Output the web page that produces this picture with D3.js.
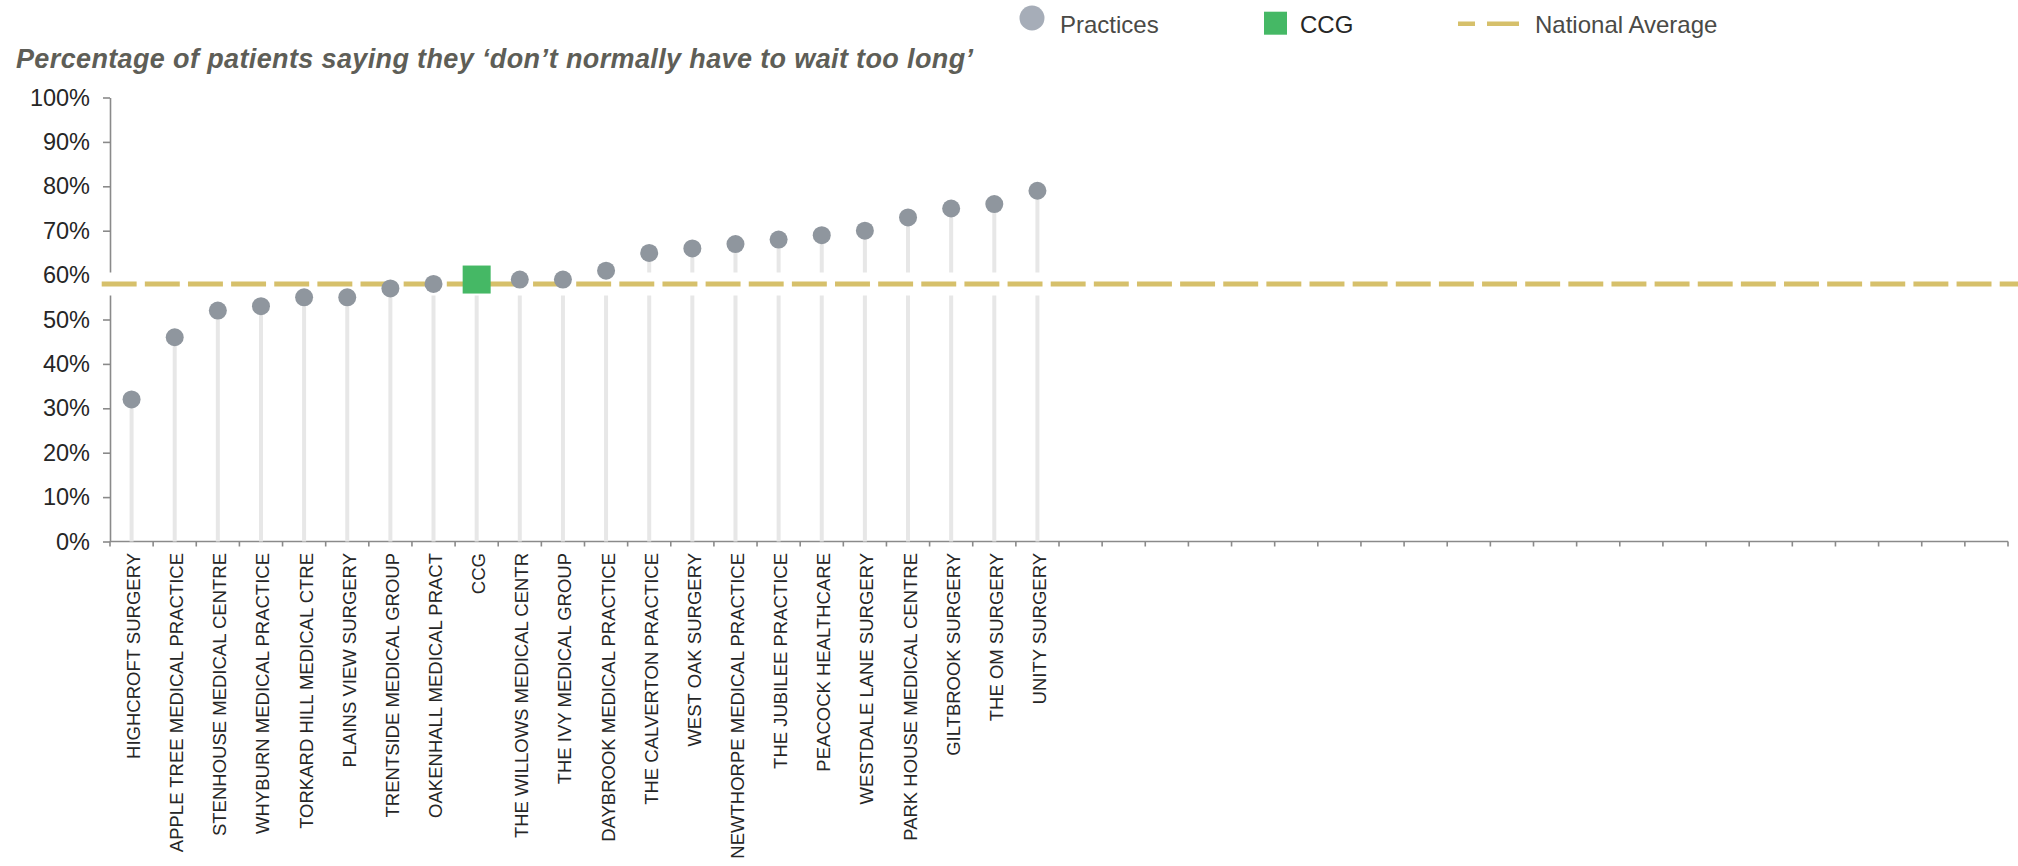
<!DOCTYPE html>
<html>
<head>
<meta charset="utf-8">
<script src="https://cdn.jsdelivr.net/npm/d3@7"></script>
<style>
  html, body { margin: 0; padding: 0; background: #ffffff; }
  svg { display: block; font-family: "Liberation Sans", Arial, sans-serif; }
</style>
</head>
<body>
<svg id="chart" width="2018" height="866"></svg>
<script>
// Practice names in display order (the CCG sits among them at its own value)
const categories = [
  "HIGHCROFT SURGERY", "APPLE TREE MEDICAL PRACTICE", "STENHOUSE MEDICAL CENTRE",
  "WHYBURN MEDICAL PRACTICE", "TORKARD HILL MEDICAL CTRE", "PLAINS VIEW SURGERY",
  "TRENTSIDE MEDICAL GROUP", "OAKENHALL MEDICAL PRACT", "CCG",
  "THE WILLOWS MEDICAL CENTR", "THE IVY MEDICAL GROUP", "DAYBROOK MEDICAL PRACTICE",
  "THE CALVERTON PRACTICE", "WEST OAK SURGERY", "NEWTHORPE MEDICAL PRACTICE",
  "THE JUBILEE PRACTICE", "PEACOCK HEALTHCARE", "WESTDALE LANE SURGERY",
  "PARK HOUSE MEDICAL CENTRE", "GILTBROOK SURGERY", "THE OM SURGERY", "UNITY SURGERY"
];
// % of patients who don't normally have to wait too long
const values = [32, 46, 52, 53, 55, 55, 57, 58, 59, 59, 59, 61, 65, 66, 67, 68, 69, 70, 73, 75, 76, 79];
// Which entry is the CCG rather than a practice
const ccgName = "CCG";
const nationalAverage = 58;
// The axis is laid out with room for this many slots
const slotCount = 44;
const yTicks = [0, 10, 20, 30, 40, 50, 60, 70, 80, 90, 100];
const titleText = "Percentage of patients saying they \u2018don\u2019t normally have to wait too long\u2019";
const legendItems = ["Practices", "CCG", "National Average"];

const colors = {
  dot: "#8f969e",
  legendDot: "#a6adb8",
  ccg: "#45b865",
  stem: "#e7e7e7",
  avg: "#d6c06b",
  axis: "#8a8a8a",
  text: "#262626",
  title: "#5e5e57",
  legendText: "#4a4a46"
};

const svg = d3.select("#chart");
const plotLeft = 110, plotRight = 2008, plotTop = 97.5, plotBottom = 541.5;

const x = d3.scaleBand().domain(d3.range(slotCount)).range([plotLeft, plotRight]).padding(0);
const y = d3.scaleLinear().domain([0, 100]).range([plotBottom, plotTop]);
const cx = i => x(i) + x.bandwidth() / 2;

// Title
svg.append("text")
  .attr("x", 16).attr("y", 68)
  .attr("font-size", 27).attr("font-weight", "bold").attr("font-style", "italic")
  .attr("fill", colors.title)
  .attr("textLength", 957).attr("lengthAdjust", "spacing")
  .text(titleText);

// Legend
const lg = svg.append("g");
lg.append("circle").attr("cx", 1032).attr("cy", 18).attr("r", 12.5).attr("fill", colors.legendDot);
lg.append("text").attr("x", 1060).attr("y", 32.5).attr("font-size", 24).attr("fill", colors.legendText).text(legendItems[0]);
lg.append("rect").attr("x", 1264).attr("y", 11.7).attr("width", 23).attr("height", 23).attr("fill", colors.ccg);
lg.append("text").attr("x", 1300).attr("y", 32.5).attr("font-size", 24).attr("fill", colors.text).text(legendItems[1]);
lg.append("line").attr("x1", 1458).attr("x2", 1519).attr("y1", 23.7).attr("y2", 23.7)
  .attr("stroke", colors.avg).attr("stroke-width", 4.5).attr("stroke-dasharray", "17 12 32");
lg.append("text").attr("x", 1535).attr("y", 32.5).attr("font-size", 24).attr("fill", colors.legendText).text(legendItems[2]);

// Y axis
const yAxis = d3.axisLeft(y).tickValues(yTicks).tickFormat(d => d + "%").tickSize(7).tickSizeOuter(0).tickPadding(13);
const yg = svg.append("g").attr("transform", `translate(${plotLeft},0)`).call(yAxis);
yg.select(".domain").attr("stroke", colors.axis).attr("stroke-width", 1.6);
yg.selectAll(".tick line").attr("stroke", colors.axis).attr("stroke-width", 1.6);
yg.selectAll(".tick text").attr("font-size", 23.5).attr("fill", colors.text)
  .attr("font-family", "'Liberation Sans', Arial, sans-serif");

// X axis: ticks on slot boundaries, labels at slot centres
const xg = svg.append("g");
xg.append("line").attr("x1", plotLeft).attr("x2", plotRight).attr("y1", plotBottom).attr("y2", plotBottom)
  .attr("stroke", colors.axis).attr("stroke-width", 1.6);
xg.selectAll("line.tk").data(d3.range(slotCount + 1)).join("line").attr("class", "tk")
  .attr("x1", i => plotLeft + i * x.bandwidth()).attr("x2", i => plotLeft + i * x.bandwidth())
  .attr("y1", plotBottom).attr("y2", plotBottom + 5)
  .attr("stroke", colors.axis).attr("stroke-width", 1.6);
xg.selectAll("text").data(categories).join("text")
  .attr("transform", (d, i) => `translate(${cx(i) + 2},${plotBottom + 11.5}) rotate(-90)`)
  .attr("text-anchor", "end").attr("dy", "0.35em")
  .attr("font-size", 18.5).attr("fill", colors.text)
  .text(d => d);

// Stems
svg.append("g").selectAll("line").data(values).join("line")
  .attr("x1", (d, i) => cx(i)).attr("x2", (d, i) => cx(i))
  .attr("y1", y(0)).attr("y2", d => y(d))
  .attr("stroke", colors.stem).attr("stroke-width", 4);

// National average: white halo then dashed line
const bw = x.bandwidth();
svg.append("line").attr("x1", plotLeft - 8.3).attr("x2", 2018)
  .attr("y1", y(nationalAverage)).attr("y2", y(nationalAverage))
  .attr("stroke", "#ffffff").attr("stroke-width", 23);
svg.append("line").attr("x1", plotLeft - 8.3).attr("x2", 2018)
  .attr("y1", y(nationalAverage)).attr("y2", y(nationalAverage))
  .attr("stroke", colors.avg).attr("stroke-width", 5)
  .attr("stroke-dasharray", `${bw * 0.81} ${bw * 0.19}`);

// Markers: circles for practices, square for the CCG
const marks = svg.append("g");
categories.forEach((name, i) => {
  if (name === ccgName) {
    marks.append("rect")
      .attr("x", cx(i) - 14).attr("y", y(values[i]) - 14)
      .attr("width", 28).attr("height", 28).attr("fill", colors.ccg);
  } else {
    marks.append("circle")
      .attr("cx", cx(i)).attr("cy", y(values[i])).attr("r", 9)
      .attr("fill", colors.dot);
  }
});
</script>
</body>
</html>
